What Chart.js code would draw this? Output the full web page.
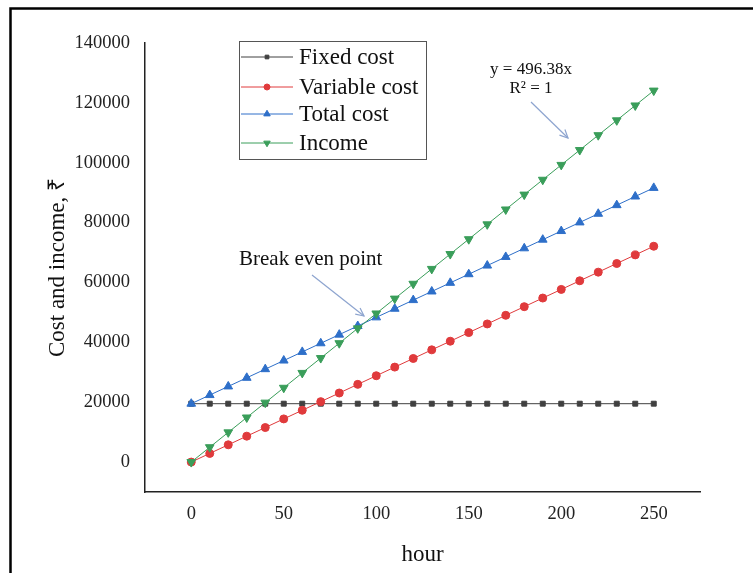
<!DOCTYPE html>
<html><head><meta charset="utf-8">
<script src="https://cdn.jsdelivr.net/npm/chart.js@4"></script>
<style>html,body{margin:0;padding:0;background:#fff}#wrap{width:753px;height:573px;position:relative}</style>
</head><body><div id="wrap"><canvas id="c" width="753" height="573"></canvas></div>
<script>
const hours = [0,10,20,30,40,50,60,70,80,90,100,110,120,130,140,150,160,170,180,190,200,210,220,230,240,250];
const fixedCost = [19500,19500,19500,19500,19500,19500,19500,19500,19500,19500,19500,19500,19500,19500,19500,19500,19500,19500,19500,19500,19500,19500,19500,19500,19500,19500];
const variableCost = [0,2884,5768,8652,11536,14420,17304,20188,23072,25956,28840,31724,34608,37492,40376,43260,46144,49028,51912,54796,57680,60564,63448,66332,69216,72100];
const totalCost = [19500,22384,25268,28152,31036,33920,36804,39688,42572,45456,48340,51224,54108,56992,59876,62760,65644,68528,71412,74296,77180,80064,82948,85832,88716,91600];
const income = [0,4964,9928,14891,19855,24819,29783,34747,39710,44674,49638,54602,59566,64529,69493,74457,79421,84385,89348,94312,99276,104240,109204,114167,119131,124095];
const seriesNames = ["Fixed cost","Variable cost","Total cost","Income"];
const xTicks = [0,50,100,150,200,250];
const yTicks = [0,20000,40000,60000,80000,100000,120000,140000];

const SERIF = '"Liberation Serif","Times New Roman",serif';
const toPts = arr => arr.map((v,i)=>({x:hours[i],y:v}));

const styles = [
  {color:'#404040', pointStyle:'rect', radius:3.5},
  {color:'#E03A3C', pointStyle:'circle', radius:4},
  {color:'#2E6FC9', pointStyle:'triangle', radius:5},
  {color:'#3A9E5A', pointStyle:'triangle', radius:5, rotation:180}
];
const seriesData = [fixedCost, variableCost, totalCost, income];

const datasets = seriesData.map((d,i)=>({
  label: seriesNames[i],
  data: toPts(d),
  order: 3 - i,
  borderColor: styles[i].color,
  backgroundColor: styles[i].color,
  borderWidth: 1,
  pointStyle: styles[i].pointStyle,
  pointRadius: styles[i].radius,
  pointRotation: styles[i].rotation || 0,
  pointBorderWidth: 1,
  tension: 0
}));

function arrow(ctx, x1,y1,x2,y2,color){
  ctx.save();
  ctx.strokeStyle = color; ctx.lineWidth = 1.2;
  ctx.beginPath(); ctx.moveTo(x1,y1); ctx.lineTo(x2,y2); ctx.stroke();
  const a = Math.atan2(y2-y1,x2-x1), L = 9, w = 0.45;
  ctx.beginPath();
  ctx.moveTo(x2 - L*Math.cos(a-w), y2 - L*Math.sin(a-w));
  ctx.lineTo(x2,y2);
  ctx.lineTo(x2 - L*Math.cos(a+w), y2 - L*Math.sin(a+w));
  ctx.stroke();
  ctx.restore();
}

const decor = {
  id:'decor',
  beforeDraw(chart){
    const ctx = chart.ctx;
    ctx.save();
    ctx.fillStyle = '#fff'; ctx.fillRect(0,0,chart.width,chart.height);
    ctx.strokeStyle = '#000'; ctx.lineWidth = 2.5;
    ctx.strokeRect(10.5, 8.5, 800, 700);
    ctx.restore();
  },
  afterDraw(chart){
    const ctx = chart.ctx;
    ctx.save();
    // legend box
    const bx=239, by=41, bw=187, bh=118;
    ctx.fillStyle='#fff'; ctx.fillRect(bx,by,bw,bh);
    ctx.strokeStyle='#555'; ctx.lineWidth=1; ctx.strokeRect(bx+0.5,by+0.5,bw,bh);
    const rows=[57,87,114,143];
    ctx.font = '23px '+SERIF; ctx.textBaseline='middle'; ctx.textAlign='left';
    rows.forEach((ry,i)=>{
      const st = styles[i];
      ctx.strokeStyle = st.color; ctx.lineWidth=1;
      ctx.beginPath(); ctx.moveTo(241,ry); ctx.lineTo(293,ry); ctx.stroke();
      ctx.fillStyle = st.color;
      Chart.helpers.drawPoint(ctx,{pointStyle:st.pointStyle, rotation:st.rotation||0, radius:st.radius*0.75, borderWidth:1}, 267, ry);
      ctx.fillStyle='#111';
      ctx.fillText(seriesNames[i], 299, ry+1);
    });
    // annotations
    ctx.fillStyle='#111';
    ctx.font='17px '+SERIF; ctx.textAlign='center';
    ctx.fillText('y = 496.38x', 531, 70);
    ctx.fillText('R² = 1', 531, 89);
    arrow(ctx, 531,102, 568,138, '#8DA4CF');
    ctx.font='21px '+SERIF; ctx.textAlign='left';
    ctx.fillText('Break even point', 239, 259);
    arrow(ctx, 312,275, 364,316, '#8DA4CF');
    ctx.restore();
  }
};

new Chart(document.getElementById('c'), {
  type:'line',
  data:{datasets},
  options:{
    responsive:false, animation:false,
    layout:{padding:{top:43,right:53,left:0,bottom:0}},
    plugins:{legend:{display:false}, tooltip:{enabled:false}},
    scales:{
      x:{
        type:'linear', min:-25, max:275,
        afterBuildTicks(s){ s.ticks = xTicks.map(v=>({value:v})); },
        afterFit(s){ s.height = 81; },
        grid:{display:false, drawTicks:false},
        border:{display:true, color:'#222', width:1.5},
        ticks:{color:'#222', font:{family:SERIF,size:18.5}, padding:11, callback:v=>String(v)},
        title:{display:true, text:'hour', color:'#111', font:{family:SERIF,size:23}, padding:{top:4}}
      },
      y:{
        type:'linear', min:-10000, max:140000,
        afterBuildTicks(s){ s.ticks = yTicks.map(v=>({value:v})); },
        afterFit(s){ s.width = 145; },
        grid:{display:false, drawTicks:false},
        border:{display:true, color:'#222', width:1.5},
        ticks:{color:'#222', font:{family:SERIF,size:18.5}, padding:15, callback:v=>String(v)},
        title:{display:true, text:'Cost and income, ₹', color:'#111', font:{family:SERIF,size:23}, padding:{top:44,bottom:0}}
      }
    }
  },
  plugins:[decor]
});
</script></body></html>
